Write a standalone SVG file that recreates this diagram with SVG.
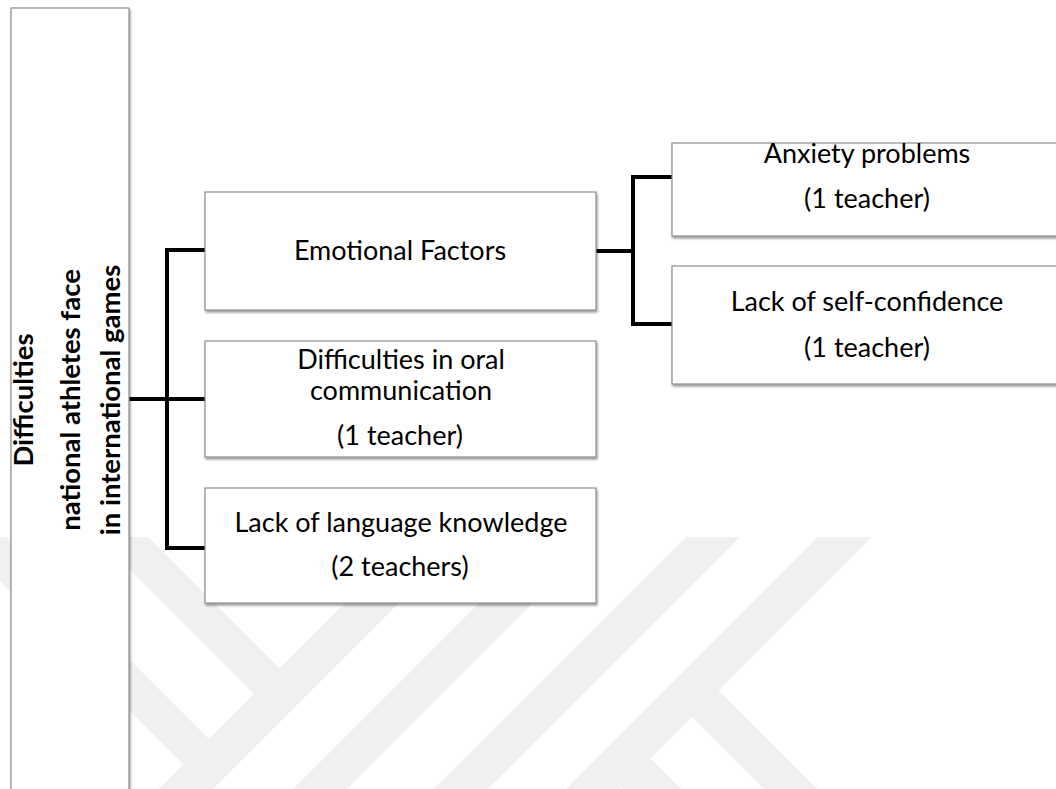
<svg xmlns="http://www.w3.org/2000/svg" width="1056" height="789" viewBox="0 0 1056 789">
  <style>
    .box { fill: #ffffff; stroke: #8c8c8c; stroke-width: 1.2; filter: url(#shadow); }
    .lbl { font-family: Lato, "Liberation Sans", sans-serif; font-size: 27px; fill: #000000; text-anchor: middle; }
    .head { font-family: Lato, "Liberation Sans", sans-serif; font-size: 27.5px; font-weight: bold; fill: #000000; text-anchor: middle; }
    .link { fill: none; stroke: #000000; stroke-width: 4; stroke-linejoin: miter; stroke-linecap: butt; }
    .mark { fill: #f0f0f0; }
  </style>
  <defs>
    <filter id="shadow" x="-5%" y="-5%" width="115%" height="120%">
      <feDropShadow dx="1" dy="2" stdDeviation="1.2" flood-color="#000000" flood-opacity="0.4"/>
    </filter>
    <clipPath id="markClip">
      <rect x="0" y="537" width="1056" height="252"/>
    </clipPath>
  </defs>

  <rect x="0" y="0" width="1056" height="789" fill="#ffffff"/>

  <!-- background emblem: diagonal bands -->
  <g id="emblem" class="mark" clip-path="url(#markClip)">
    <polygon points="448,500 502,500 202,800 148,800"/>
    <polygon points="582,500 636,500 336,800 282,800"/>
    <polygon points="723,500 777,500 477,800 423,800"/>
    <polygon points="855,500 909,500 609,800 555,800"/>
    <polygon points="-10,379 293,682 267.5,707.5 -10,430"/>
    <polygon points="-10,520 222.5,752.5 197,778 -10,571"/>
    <polygon points="705,677 878,850 825,850 678.5,703.5"/>
    <polygon points="637,745 742,850 684,850 608,774"/>
  </g>

  <!-- connectors -->
  <g id="connectors">
    <path class="link" d="M129,399 H205"/>
    <path class="link" d="M205,250 H167 V548 H205"/>
    <path class="link" d="M596,251 H633"/>
    <path class="link" d="M672,177 H633 V324 H672"/>
  </g>

  <g id="root">
    <rect class="box" x="11" y="8" width="118" height="800"/>
    <text class="head" transform="translate(33,400) rotate(-90)">Difficulties</text>
    <text class="head" transform="translate(80,400) rotate(-90)">national athletes face</text>
    <text class="head" transform="translate(120,400) rotate(-90)">in international games</text>
  </g>

  <g id="emotional">
    <rect class="box" x="205" y="192" width="391" height="118"/>
    <text class="lbl" x="400" y="260">Emotional Factors</text>
  </g>

  <g id="oral">
    <rect class="box" x="205" y="341" width="391" height="116"/>
    <text class="lbl" x="401" y="369">Difficulties in oral</text>
    <text class="lbl" x="401" y="400">communication</text>
    <text class="lbl" x="400" y="445">(1 teacher)</text>
  </g>

  <g id="language">
    <rect class="box" x="205" y="488" width="391" height="115"/>
    <text class="lbl" x="401" y="532">Lack of language knowledge</text>
    <text class="lbl" x="400" y="576">(2 teachers)</text>
  </g>

  <g id="anxiety">
    <rect class="box" x="672" y="143" width="400" height="93"/>
    <text class="lbl" x="867" y="163">Anxiety problems</text>
    <text class="lbl" x="867" y="208">(1 teacher)</text>
  </g>

  <g id="confidence">
    <rect class="box" x="672" y="266" width="400" height="118"/>
    <text class="lbl" x="867" y="311">Lack of self-confidence</text>
    <text class="lbl" x="867" y="357">(1 teacher)</text>
  </g>
</svg>
